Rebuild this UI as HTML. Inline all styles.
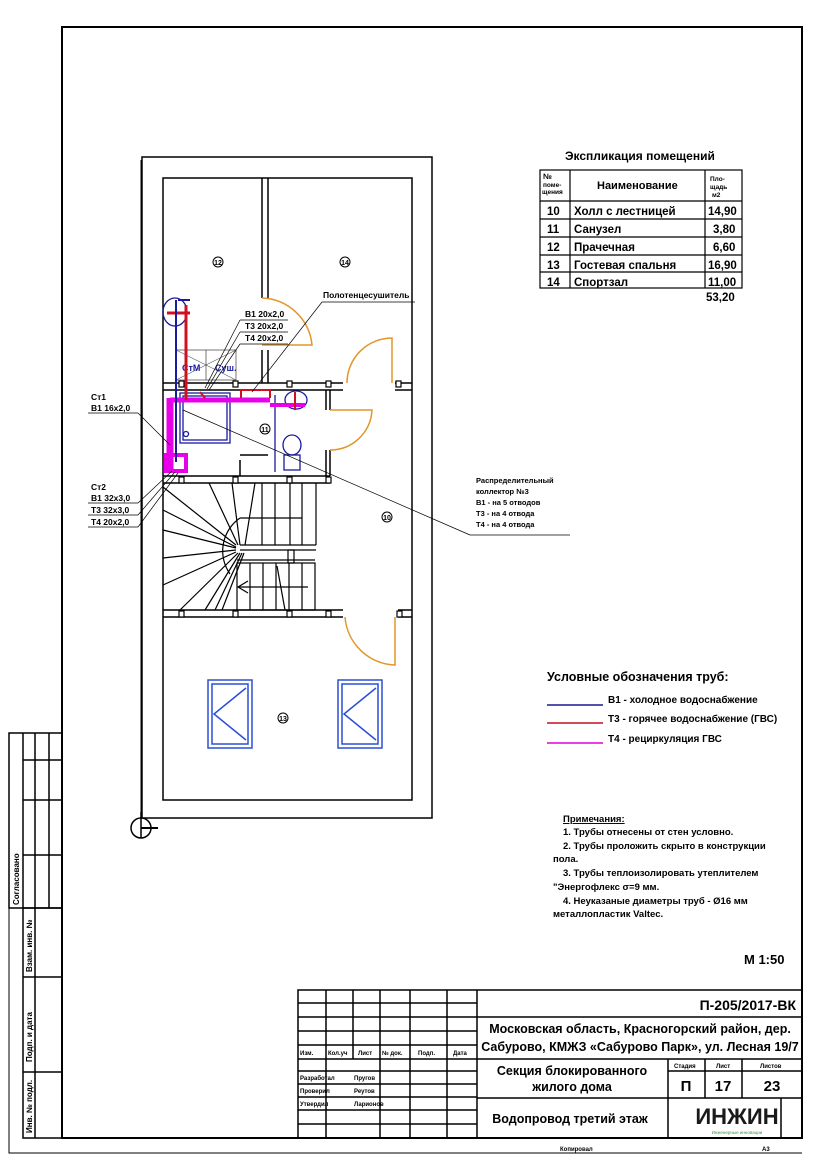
<!DOCTYPE html>
<html><head><meta charset="utf-8"><style>
html,body{margin:0;padding:0;background:#fff;}
svg{display:block;font-family:"Liberation Sans",Arial,sans-serif;}
</style></head><body>
<svg width="824" height="1166" viewBox="0 0 824 1166" xmlns="http://www.w3.org/2000/svg">
<rect width="824" height="1166" fill="#fff"/>
<!-- frames -->
<rect x="62" y="27" width="740" height="1111" fill="none" stroke="#000" stroke-width="2"/>
<polyline points="9,733 9,1153 802,1153" fill="none" stroke="#000" stroke-width="1"/>
<!-- left stamp -->
<g stroke="#000" stroke-width="1.5" fill="none">
<rect x="9" y="733" width="53" height="175"/>
<line x1="23" y1="733" x2="23" y2="908"/><line x1="35" y1="733" x2="35" y2="908"/><line x1="49" y1="733" x2="49" y2="908"/>
<line x1="23" y1="760" x2="62" y2="760"/><line x1="23" y1="800" x2="62" y2="800"/><line x1="23" y1="855" x2="62" y2="855"/>
<rect x="23" y="908" width="39" height="230"/>
<line x1="35" y1="908" x2="35" y2="1138"/>
<line x1="23" y1="977" x2="62" y2="977"/><line x1="23" y1="1072" x2="62" y2="1072"/>
</g>
<g font-size="8" font-weight="bold">
<text transform="translate(19,905) rotate(-90)">Согласовано</text>
<text transform="translate(32,972) rotate(-90)">Взам. инв. №</text>
<text transform="translate(32,1062) rotate(-90)">Подп. и дата</text>
<text transform="translate(32,1133) rotate(-90)">Инв. № подл.</text>
</g>
<!-- building walls -->
<g stroke="#000" stroke-width="1.5" fill="none">
<rect x="142" y="157" width="290" height="661"/>
<rect x="163" y="178" width="249" height="622"/>
<line x1="262" y1="178" x2="262" y2="298"/><line x1="268" y1="178" x2="268" y2="298"/>
<line x1="262" y1="350" x2="262" y2="383"/><line x1="268" y1="350" x2="268" y2="383"/>
<line x1="163" y1="383" x2="343" y2="383"/><line x1="163" y1="390" x2="343" y2="390"/>
<line x1="395" y1="383" x2="412" y2="383"/><line x1="395" y1="390" x2="412" y2="390"/>
<line x1="326" y1="390" x2="326" y2="410"/><line x1="330" y1="390" x2="330" y2="410"/>
<line x1="326" y1="450" x2="326" y2="476"/><line x1="330" y1="450" x2="330" y2="476"/>
<line x1="163" y1="476" x2="330" y2="476"/><line x1="163" y1="483" x2="330" y2="483"/>
<line x1="163" y1="610" x2="343" y2="610"/><line x1="163" y1="617" x2="343" y2="617"/>
<line x1="398" y1="610" x2="412" y2="610"/><line x1="398" y1="617" x2="412" y2="617"/>
<line x1="240" y1="455" x2="268" y2="455"/><line x1="240" y1="460" x2="240" y2="476"/>
</g>
<g fill="#fff" stroke="#000" stroke-width="1.2">
<rect x="179" y="381" width="5" height="6"/><rect x="233" y="381" width="5" height="6"/><rect x="287" y="381" width="5" height="6"/><rect x="326" y="381" width="5" height="6"/><rect x="396" y="381" width="5" height="6"/>
<rect x="179" y="477" width="5" height="6"/><rect x="233" y="477" width="5" height="6"/><rect x="287" y="477" width="5" height="6"/><rect x="326" y="477" width="5" height="6"/>
<rect x="179" y="611" width="5" height="6"/><rect x="233" y="611" width="5" height="6"/><rect x="287" y="611" width="5" height="6"/><rect x="326" y="611" width="5" height="6"/><rect x="397" y="611" width="5" height="6"/>
</g>
<!-- doors -->
<g stroke="#e0962a" stroke-width="1.5" fill="none">
<path d="M262,298 A52,52 0 0 1 312,345 L262,345"/>
<path d="M392,383 L392,338 A45,45 0 0 0 347,383"/>
<path d="M330,410 L372,410 A42,42 0 0 1 330,450"/>
<path d="M345,617 A52,52 0 0 0 395,665 L395,617"/>
</g>
<!-- stairs -->
<g stroke="#000" stroke-width="1.2" fill="none">
<line x1="163" y1="487" x2="236" y2="545"/><line x1="209" y1="483" x2="238" y2="545"/>
<line x1="232" y1="483" x2="240" y2="545"/><line x1="255" y1="483" x2="245" y2="545"/>
<line x1="163" y1="510" x2="236" y2="547"/><line x1="163" y1="530" x2="236" y2="548"/>
<line x1="163" y1="558" x2="236" y2="550"/><line x1="163" y1="585" x2="236" y2="552"/>
<line x1="180" y1="610" x2="238" y2="553"/><line x1="205" y1="610" x2="240" y2="553"/>
<line x1="215" y1="610" x2="242" y2="553"/><line x1="222" y1="610" x2="244" y2="553"/>
<path d="M240,518 A40,40 0 0 0 230,574"/>
<line x1="240" y1="518" x2="302" y2="518"/>
<line x1="240" y1="545" x2="316" y2="545"/><line x1="240" y1="550" x2="316" y2="550"/>
<line x1="302" y1="483" x2="302" y2="545"/><line x1="316" y1="483" x2="316" y2="545"/>
<line x1="290" y1="483" x2="290" y2="545"/><line x1="275" y1="483" x2="275" y2="545"/><line x1="262" y1="483" x2="262" y2="545"/>
<rect x="237" y="563" width="78" height="47"/>
<line x1="237" y1="560" x2="315" y2="560"/>
<line x1="250" y1="563" x2="250" y2="610"/><line x1="263" y1="563" x2="263" y2="610"/><line x1="276" y1="563" x2="276" y2="610"/><line x1="289" y1="563" x2="289" y2="610"/><line x1="302" y1="563" x2="302" y2="610"/>
<line x1="277" y1="566" x2="285" y2="610"/><line x1="238" y1="587" x2="308" y2="587"/>
<path d="M248,581 L238,587 L248,593"/>
<rect x="288" y="550" width="6" height="13"/>
</g>
<!-- windows -->
<g stroke="#2a4fd6" stroke-width="1.5" fill="none">
<rect x="208" y="680" width="44" height="68"/><rect x="212" y="684" width="36" height="60"/>
<polyline points="246,688 214,714 246,740"/>
<rect x="338" y="680" width="44" height="68"/><rect x="342" y="684" width="36" height="60"/>
<polyline points="376,688 344,714 376,740"/>
</g>
<!-- fixtures -->
<g stroke="#1a1aa0" stroke-width="1.3" fill="none">
<rect x="176" y="350" width="60" height="30" stroke="#555" stroke-width="0.8"/>
<line x1="176" y1="350" x2="236" y2="380" stroke="#555" stroke-width="0.6"/><line x1="236" y1="350" x2="176" y2="380" stroke="#555" stroke-width="0.6"/>
<line x1="206" y1="350" x2="206" y2="380" stroke="#555" stroke-width="0.8"/>
<ellipse cx="175" cy="312" rx="12" ry="14"/>
<rect x="180" y="393" width="50" height="50"/><rect x="183" y="396" width="44" height="44"/>
<circle cx="186" cy="434" r="2.5"/>
<ellipse cx="296" cy="400" rx="11" ry="9"/>
<ellipse cx="292" cy="445" rx="9" ry="10"/><rect x="284" y="455" width="16" height="15"/>
<line x1="275" y1="395" x2="275" y2="472"/>
<line x1="270" y1="405" x2="280" y2="405"/>
</g>
<text x="182" y="371" font-size="9" fill="#1a1aa0" font-weight="bold">СтМ</text>
<text x="215" y="371" font-size="9" fill="#1a1aa0" font-weight="bold">Суш.</text>
<!-- pipes -->
<g fill="none">
<line x1="170" y1="400" x2="270" y2="400" stroke="#e800e8" stroke-width="5"/>
<line x1="170" y1="398" x2="170" y2="470" stroke="#e800e8" stroke-width="7"/>
<rect x="166" y="455" width="20" height="16" stroke="#e800e8" stroke-width="4"/>
<line x1="270" y1="405" x2="305" y2="405" stroke="#e800e8" stroke-width="4"/>
<line x1="186" y1="305" x2="186" y2="400" stroke="#d01020" stroke-width="3"/>
<line x1="167" y1="313" x2="190" y2="313" stroke="#d01020" stroke-width="3"/>
<line x1="176" y1="300" x2="176" y2="462" stroke="#1a1aa0" stroke-width="2"/>
<line x1="178" y1="300" x2="190" y2="300" stroke="#1a1aa0" stroke-width="2"/>
<polyline points="241,398 241,390 270,390 270,398" stroke="#d01020" stroke-width="2"/>
<line x1="295" y1="392" x2="295" y2="410" stroke="#d01020" stroke-width="2"/>
<line x1="200" y1="392" x2="205" y2="398" stroke="#d01020" stroke-width="2"/>
</g>
<!-- riser outside -->
<line x1="141" y1="160" x2="141" y2="828" stroke="#000" stroke-width="1"/>
<circle cx="141" cy="828" r="10" fill="none" stroke="#000" stroke-width="1.5"/>
<line x1="141" y1="812" x2="141" y2="838" stroke="#000" stroke-width="1.5"/>
<line x1="141" y1="828" x2="158" y2="828" stroke="#000" stroke-width="2"/>
<!-- room markers -->
<g font-size="7" font-weight="bold" text-anchor="middle">
<circle cx="218" cy="262" r="5" fill="none" stroke="#000"/><text x="218" y="265">12</text>
<circle cx="345" cy="262" r="5" fill="none" stroke="#000"/><text x="345" y="265">14</text>
<circle cx="265" cy="429" r="5" fill="none" stroke="#000"/><text x="265" y="432">11</text>
<circle cx="387" cy="517" r="5" fill="none" stroke="#000"/><text x="387" y="520">10</text>
<circle cx="283" cy="718" r="5" fill="none" stroke="#000"/><text x="283" y="721">13</text>
</g>
<!-- leaders -->
<g stroke="#000" stroke-width="0.7" fill="none">
<line x1="183" y1="410" x2="470" y2="535"/><line x1="470" y1="535" x2="570" y2="535"/>
<line x1="240" y1="320" x2="288" y2="320"/><line x1="240" y1="332" x2="288" y2="332"/><line x1="240" y1="344" x2="288" y2="344"/>
<line x1="240" y1="320" x2="205" y2="388"/><line x1="240" y1="332" x2="207" y2="389"/><line x1="240" y1="344" x2="209" y2="390"/>
<line x1="322" y1="302" x2="415" y2="302"/><line x1="322" y1="302" x2="252" y2="392"/>
<line x1="88" y1="413" x2="138" y2="413"/><line x1="138" y1="413" x2="170" y2="445"/>
<line x1="88" y1="503" x2="138" y2="503"/><line x1="88" y1="515" x2="138" y2="515"/><line x1="88" y1="527" x2="138" y2="527"/>
<line x1="138" y1="503" x2="172" y2="471"/><line x1="138" y1="515" x2="175" y2="472"/><line x1="138" y1="527" x2="178" y2="473"/>
</g>
<g font-size="8.5" font-weight="bold">
<text x="91" y="400">Ст1</text><text x="91" y="411">В1 16х2,0</text>
<text x="91" y="490">Ст2</text><text x="91" y="501">В1 32х3,0</text><text x="91" y="513">Т3 32х3,0</text><text x="91" y="525">Т4 20х2,0</text>
<text x="245" y="317">В1 20х2,0</text><text x="245" y="329">Т3 20х2,0</text><text x="245" y="341">Т4 20х2,0</text>
<text x="323" y="298">Полотенцесушитель</text>
</g>
<g font-size="7.5" font-weight="bold">
<text x="476" y="483">Распределительный</text><text x="476" y="494">коллектор №3</text>
<text x="476" y="505">В1 - на 5 отводов</text><text x="476" y="516">Т3 - на 4 отвода</text><text x="476" y="527">Т4 - на 4 отвода</text>
</g>
<!-- explication table -->
<text x="565" y="160" font-size="12" font-weight="bold">Экспликация помещений</text>
<g stroke="#000" stroke-width="1.2" fill="none">
<rect x="540" y="170" width="202" height="118"/>
<line x1="570" y1="170" x2="570" y2="288"/><line x1="705" y1="170" x2="705" y2="288"/>
<line x1="540" y1="201" x2="742" y2="201"/><line x1="540" y1="219" x2="742" y2="219"/><line x1="540" y1="237" x2="742" y2="237"/><line x1="540" y1="255" x2="742" y2="255"/><line x1="540" y1="272" x2="742" y2="272"/>
</g>
<g font-size="6.5" font-weight="bold">
<text x="543" y="179" font-size="8">№</text><text x="543" y="187">поме-</text><text x="542" y="194">щения</text>
<text x="710" y="181">Пло-</text><text x="710" y="189">щадь</text><text x="712" y="197">м2</text>
</g>
<text x="597" y="189" font-size="11" font-weight="bold">Наименование</text>
<g font-size="11.5" font-weight="bold">
<text x="547" y="215">10</text><text x="574" y="215">Холл с лестницей</text><text x="708" y="215">14,90</text>
<text x="547" y="233">11</text><text x="574" y="233">Санузел</text><text x="713" y="233">3,80</text>
<text x="547" y="251">12</text><text x="574" y="251">Прачечная</text><text x="713" y="251">6,60</text>
<text x="547" y="269">13</text><text x="574" y="269">Гостевая спальня</text><text x="708" y="269">16,90</text>
<text x="547" y="286">14</text><text x="574" y="286">Спортзал</text><text x="708" y="286">11,00</text>
<text x="706" y="301">53,20</text>
</g>
<!-- legend -->
<text x="547" y="681" font-size="12.5" font-weight="bold">Условные обозначения  труб:</text>
<line x1="547" y1="705" x2="603" y2="705" stroke="#1a1a90" stroke-width="1.5"/>
<line x1="547" y1="723" x2="603" y2="723" stroke="#c01020" stroke-width="1.5"/>
<line x1="547" y1="743" x2="603" y2="743" stroke="#e000e0" stroke-width="1.5"/>
<g font-size="10" font-weight="bold">
<text x="608" y="703">В1 - холодное водоснабжение</text>
<text x="608" y="722">Т3 - горячее водоснабжение (ГВС)</text>
<text x="608" y="742">Т4 - рециркуляция ГВС</text>
</g>
<g font-size="9.5" font-weight="bold">
<text x="563" y="822" text-decoration="underline">Примечания:</text>
<text x="563" y="835">1. Трубы отнесены от стен условно.</text>
<text x="563" y="849">2. Трубы проложить скрыто в конструкции</text>
<text x="553" y="862">пола.</text>
<text x="563" y="876">3. Трубы теплоизолировать утеплителем</text>
<text x="553" y="890">"Энергофлекс σ=9 мм.</text>
<text x="563" y="904">4. Неуказаные диаметры труб - Ø16 мм</text>
<text x="553" y="917">металлопластик Valtec.</text>
</g>
<text x="744" y="964" font-size="13" font-weight="bold">М 1:50</text>
<!-- title block -->
<g stroke="#000" stroke-width="1.5" fill="none">
<rect x="298" y="990" width="504" height="148"/>
<line x1="477" y1="990" x2="477" y2="1138"/>
<line x1="326" y1="990" x2="326" y2="1138"/><line x1="353" y1="990" x2="353" y2="1059"/><line x1="380" y1="990" x2="380" y2="1138"/><line x1="410" y1="990" x2="410" y2="1138"/><line x1="447" y1="990" x2="447" y2="1138"/>
<line x1="298" y1="1003" x2="477" y2="1003"/><line x1="298" y1="1017" x2="477" y2="1017"/><line x1="298" y1="1031" x2="477" y2="1031"/><line x1="298" y1="1045" x2="477" y2="1045"/><line x1="298" y1="1059" x2="477" y2="1059"/>
<line x1="298" y1="1071" x2="477" y2="1071"/><line x1="298" y1="1084" x2="477" y2="1084"/><line x1="298" y1="1097" x2="477" y2="1097"/><line x1="298" y1="1110" x2="477" y2="1110"/><line x1="298" y1="1124" x2="477" y2="1124"/>
<line x1="477" y1="1017" x2="802" y2="1017"/><line x1="477" y1="1059" x2="802" y2="1059"/><line x1="477" y1="1098" x2="802" y2="1098"/>
<line x1="668" y1="1059" x2="668" y2="1138"/><line x1="705" y1="1059" x2="705" y2="1098"/><line x1="742" y1="1059" x2="742" y2="1098"/>
<line x1="668" y1="1071" x2="802" y2="1071"/>
<line x1="781" y1="1098" x2="781" y2="1138"/>
</g>
<g font-size="6" font-weight="bold">
<text x="300" y="1055">Изм.</text><text x="328" y="1055">Кол.уч</text><text x="358" y="1055">Лист</text><text x="382" y="1055">№ док.</text><text x="418" y="1055">Подп.</text><text x="453" y="1055">Дата</text>
<text x="300" y="1080">Разработал</text><text x="354" y="1080">Пругов</text>
<text x="300" y="1093">Проверил</text><text x="354" y="1093">Реутов</text>
<text x="300" y="1106">Утвердил</text><text x="354" y="1106">Ларионов</text>
<text x="674" y="1068">Стадия</text><text x="716" y="1068">Лист</text><text x="760" y="1068">Листов</text>
<text x="560" y="1151">Копировал</text><text x="762" y="1151">А3</text>
</g>
<text x="796" y="1010" font-size="14" font-weight="bold" text-anchor="end">П-205/2017-ВК</text>
<g font-size="12.5" font-weight="bold" text-anchor="middle">
<text x="640" y="1033">Московская область, Красногорский район, дер.</text>
<text x="640" y="1051">Сабурово, КМЖЗ «Сабурово Парк», ул. Лесная 19/7</text>
<text x="572" y="1075">Секция блокированного</text>
<text x="572" y="1091">жилого дома</text>
<text x="570" y="1123">Водопровод третий этаж</text>
<text x="686" y="1091" font-size="15">П</text><text x="723" y="1091" font-size="15">17</text><text x="772" y="1091" font-size="15">23</text>
</g>
<text x="737" y="1124" font-size="22" font-weight="bold" text-anchor="middle" fill="#1a1a1a">ИНЖИН</text>
<text x="737" y="1134" font-size="4.5" text-anchor="middle" fill="#3a9a3a">Инженерные инновации</text>
</svg>
</body></html>
